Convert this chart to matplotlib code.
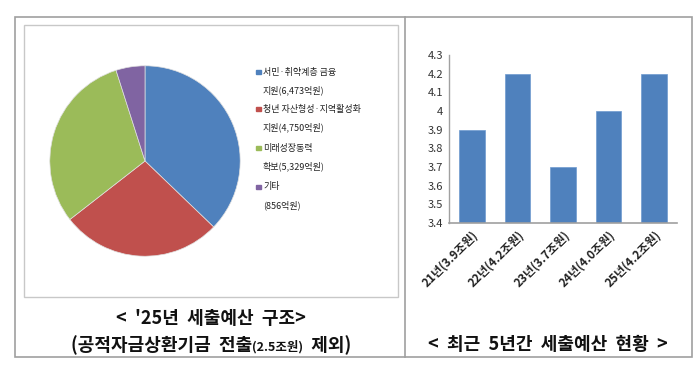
import matplotlib
matplotlib.use("Agg")
import matplotlib.pyplot as plt
from matplotlib.patches import Rectangle
from matplotlib.offsetbox import TextArea, HPacker, AnnotationBbox

plt.rcParams['font.family'] = ['Noto Sans CJK KR', 'DejaVu Sans']

# ---- data ----
pie_labels = ["서민·취약계층 금융\n지원(6,473억원)",
              "청년 자산형성·지역활성화\n지원(4,750억원)",
              "미래성장동력\n확보(5,329억원)",
              "기타\n(856억원)"]
pie_values = [6473, 4750, 5329, 856]
pie_colors = ["#4F81BD", "#C0504D", "#9BBB59", "#8064A2"]

bar_labels = ["21년(3.9조원)", "22년(4.2조원)", "23년(3.7조원)", "24년(4.0조원)", "25년(4.2조원)"]
bar_values = [3.9, 4.2, 3.7, 4.0, 4.2]
bar_color = "#4F81BD"
y_ticks = [3.4, 3.5, 3.6, 3.7, 3.8, 3.9, 4.0, 4.1, 4.2, 4.3]
y_tick_labels = ["3.4", "3.5", "3.6", "3.7", "3.8", "3.9", "4", "4.1", "4.2", "4.3"]

W, H = 700, 369
fig = plt.figure(figsize=(W / 100, H / 100), dpi=100)

def fax(x0, y0, x1, y1):
    return [x0 / W, 1 - y1 / H, (x1 - x0) / W, (y1 - y0) / H]

# background / frame axes in pixel coords
bg = fig.add_axes([0, 0, 1, 1])
bg.set_xlim(0, W)
bg.set_ylim(H, 0)
bg.axis('off')
bg.add_patch(Rectangle((15, 17), 677, 340, fill=False, edgecolor="#a0a0a0", lw=1.2))
bg.plot([405, 405], [17, 357], color="#a0a0a0", lw=1.2)
bg.add_patch(Rectangle((24, 25), 374, 272, fill=False, edgecolor="#c8c8c8", lw=1.0))

# ---- pie ----
pax = fig.add_axes(fax(26, 40, 264, 282))
pax.pie(pie_values, colors=pie_colors, startangle=90, counterclock=False,
        wedgeprops=dict(linewidth=0.5, edgecolor="#e0e0e0"))
pax.set_aspect('equal')

# legend
ly = [72, 109, 148, 187]
for lab, col, y in zip(pie_labels, pie_colors, ly):
    l1, l2 = lab.split("\n")
    bg.add_patch(Rectangle((256, y - 2.5), 4.5, 4.5, color=col))
    bg.text(263, y, l1, fontsize=6.5, va='center', ha='left', color="#222222")
    bg.text(263, y + 18, l2, fontsize=6.5, va='center', ha='left', color="#222222")

# ---- bars ----
bax = fig.add_axes(fax(449, 55, 677, 223))
x = list(range(len(bar_values)))
bax.bar(x, bar_values, width=0.56, color=bar_color, edgecolor="#6f9bd0", linewidth=0.5)
bax.set_xlim(-0.5, len(bar_values) - 0.5)
bax.set_ylim(3.4, 4.3)
bax.set_yticks(y_ticks)
bax.set_yticklabels(y_tick_labels, fontsize=8, color="#333333")
bax.set_xticks(x)
bax.set_xticklabels(bar_labels, rotation=45, ha='right', rotation_mode='anchor',
                    fontsize=8.5, fontweight='bold', color="#222222")
bax.tick_params(axis='both', length=0, pad=4)
for s in ['top', 'right']:
    bax.spines[s].set_visible(False)
bax.spines['left'].set_color("#a0a0a0")
bax.spines['bottom'].set_color("#a0a0a0")
bax.spines['left'].set_linewidth(1.0)
bax.spines['bottom'].set_linewidth(1.2)

# ---- captions ----
cap = dict(fontsize=13, fontweight='bold', color="#111111")
bg.text(211, 318, "<  '25년  세출예산  구조>", ha='center', va='center', **cap)
p1 = TextArea("(공적자금상환기금  전출", textprops=cap)
p2 = TextArea("(2.5조원)", textprops=dict(fontsize=9, fontweight='bold', color="#111111"))
p3 = TextArea("  제외)", textprops=cap)
pack = HPacker(children=[p1, p2, p3], align='baseline', pad=0, sep=0)
ab = AnnotationBbox(pack, (211, 345), xycoords='data', frameon=False, box_alignment=(0.5, 0.5))
bg.add_artist(ab)

bg.text(548, 345, "<  최근  5년간  세출예산  현황  >", ha='center', va='center', **cap)

fig.savefig("out.png", dpi=100)
